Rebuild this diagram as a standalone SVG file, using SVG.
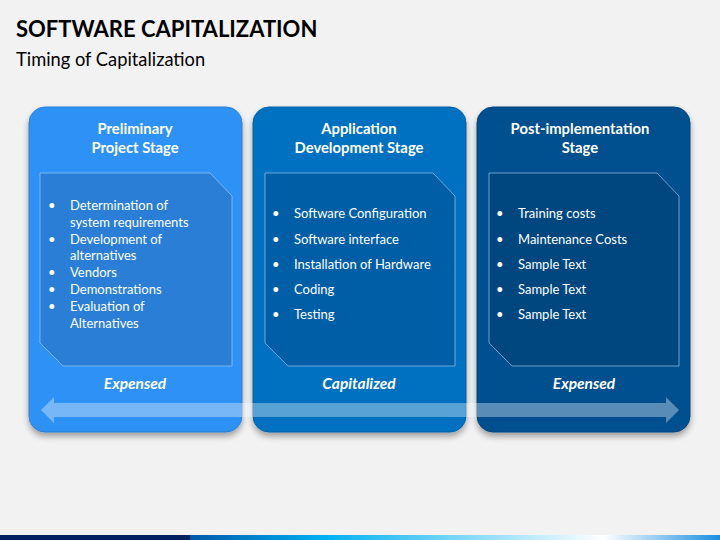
<svg xmlns="http://www.w3.org/2000/svg" width="720" height="540" viewBox="0 0 720 540">
<defs>
<filter id="sh" x="-10%" y="-10%" width="120%" height="125%">
<feGaussianBlur in="SourceAlpha" stdDeviation="3"/>
<feOffset dx="0" dy="4" result="b"/>
<feComponentTransfer><feFuncA type="linear" slope="0.35"/></feComponentTransfer>
<feMerge><feMergeNode/><feMergeNode in="SourceGraphic"/></feMerge>
</filter>
<linearGradient id="bar" x1="0" y1="0" x2="1" y2="0">
<stop offset="0" stop-color="#0058a8"/>
<stop offset="0.25" stop-color="#00b0f0"/>
<stop offset="0.78" stop-color="#ffffff"/>
<stop offset="1" stop-color="#1a8fe0"/>
</linearGradient>
<style>
.t{font-family:Lato,"Open Sans","Liberation Sans",sans-serif;fill:#ffffff}
.h{font-weight:bold;font-size:14.8px;text-anchor:middle}
.b{font-size:13px}
.f{font-weight:bold;font-style:italic;font-size:15.5px;text-anchor:middle}
.inner{stroke:#a9d0f5;stroke-width:0.8;stroke-opacity:0.8}
</style>
</defs>
<rect width="720" height="540" fill="#f2f2f2"/>
<text x="16" y="37" font-family="Lato,'Open Sans','Liberation Sans',sans-serif" font-weight="bold" font-size="22" fill="#000">SOFTWARE CAPITALIZATION</text>
<text x="16" y="66" font-family="Lato,'Open Sans','Liberation Sans',sans-serif" font-size="18.3" fill="#000">Timing of Capitalization</text>

<g id="stage1">
<rect x="29" y="107" width="213" height="325" rx="16" fill="#2f91f5" stroke="#2a7fd6" stroke-width="1" filter="url(#sh)"/>
<path class="inner" d="M40 173 H210 L232 196 V366 H63 L40 343 Z" fill="#2a7ed6"/>
<text class="t h" x="135" y="134">Preliminary</text>
<text class="t h" x="135" y="153">Project Stage</text>
<g class="t b">
<text x="48" y="210">•</text><text x="70" y="210">Determination of</text>
<text x="70" y="227">system requirements</text>
<text x="48" y="244">•</text><text x="70" y="244">Development of</text>
<text x="70" y="260">alternatives</text>
<text x="48" y="277">•</text><text x="70" y="277">Vendors</text>
<text x="48" y="294">•</text><text x="70" y="294">Demonstrations</text>
<text x="48" y="311">•</text><text x="70" y="311">Evaluation of</text>
<text x="70" y="328">Alternatives</text>
</g>
<text class="t f" x="135" y="389">Expensed</text>
</g>

<g id="stage2">
<rect x="253" y="107" width="213" height="325" rx="16" fill="#0070c0" stroke="#0063aa" stroke-width="1" filter="url(#sh)"/>
<path class="inner" d="M265 173 H433 L455 196 V366 H288 L265 343 Z" fill="#005ea6"/>
<text class="t h" x="359" y="134">Application</text>
<text class="t h" x="359" y="153">Development Stage</text>
<g class="t b">
<text x="272" y="218">•</text><text x="294" y="218">Software Configuration</text>
<text x="272" y="244">•</text><text x="294" y="244">Software interface</text>
<text x="272" y="269">•</text><text x="294" y="269">Installation of Hardware</text>
<text x="272" y="294">•</text><text x="294" y="294">Coding</text>
<text x="272" y="319">•</text><text x="294" y="319">Testing</text>
</g>
<text class="t f" x="359" y="389">Capitalized</text>
</g>

<g id="stage3">
<rect x="477" y="107" width="213" height="325" rx="16" fill="#00508f" stroke="#00467e" stroke-width="1" filter="url(#sh)"/>
<path class="inner" d="M489 173 H657 L679 196 V366 H512 L489 343 Z" fill="#00477f"/>
<text class="t h" x="580" y="134">Post-implementation</text>
<text class="t h" x="580" y="153">Stage</text>
<g class="t b">
<text x="496" y="218">•</text><text x="518" y="218">Training costs</text>
<text x="496" y="244">•</text><text x="518" y="244">Maintenance Costs</text>
<text x="496" y="269">•</text><text x="518" y="269">Sample Text</text>
<text x="496" y="294">•</text><text x="518" y="294">Sample Text</text>
<text x="496" y="319">•</text><text x="518" y="319">Sample Text</text>
</g>
<text class="t f" x="584" y="389">Expensed</text>
</g>

<g id="connectors">
<path d="M41 410 L54 397 V403 H666 V397 L679 410 L666 423 V417 H54 V423 Z" fill="#ffffff" fill-opacity="0.35"/>
</g>

<rect x="0" y="535" width="190" height="5" fill="#002060"/>
<rect x="190" y="535" width="530" height="5" fill="url(#bar)"/>
</svg>
